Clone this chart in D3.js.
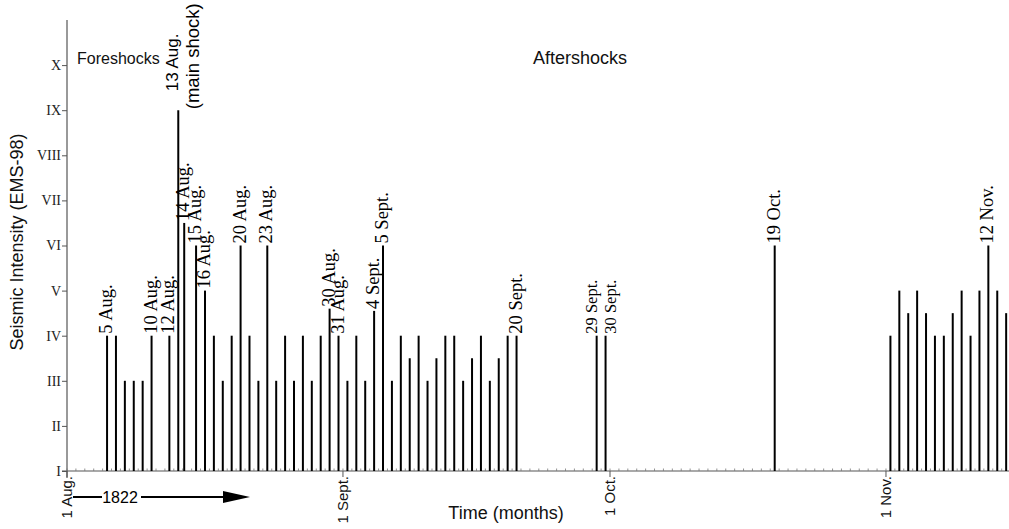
<!DOCTYPE html>
<html>
<head>
<meta charset="utf-8">
<script src="https://cdn.jsdelivr.net/npm/d3@7/dist/d3.min.js"></script>
<style>
  body { margin: 0; background: #fff; }
  svg { display: block; }
  .serif { font-family: "Liberation Serif", "Times New Roman", serif; }
  .sans { font-family: "Liberation Sans", Arial, sans-serif; }
</style>
</head>
<body>
<div id="chart"></div>
<script>
// event days (placed at midday unless a time is given)
const eventDates = [
  "1822-08-05", "1822-08-06", "1822-08-07", "1822-08-08", "1822-08-09", "1822-08-10",
  "1822-08-12", "1822-08-13", "1822-08-14 04:00", "1822-08-15", "1822-08-16", "1822-08-17",
  "1822-08-18", "1822-08-19", "1822-08-20", "1822-08-21", "1822-08-22", "1822-08-23",
  "1822-08-24", "1822-08-25", "1822-08-26", "1822-08-27", "1822-08-28", "1822-08-29",
  "1822-08-30", "1822-08-31",
  "1822-09-01", "1822-09-02", "1822-09-03", "1822-09-04", "1822-09-05", "1822-09-06",
  "1822-09-07", "1822-09-08", "1822-09-09", "1822-09-10", "1822-09-11", "1822-09-12",
  "1822-09-13", "1822-09-14", "1822-09-15", "1822-09-16", "1822-09-17", "1822-09-18",
  "1822-09-19", "1822-09-20", "1822-09-29", "1822-09-30",
  "1822-10-19",
  "1822-11-01", "1822-11-02", "1822-11-03", "1822-11-04", "1822-11-05", "1822-11-06",
  "1822-11-07", "1822-11-08", "1822-11-09", "1822-11-10", "1822-11-11", "1822-11-12",
  "1822-11-13", "1822-11-14"
];
const intensities = [
  4, 4, 3, 3, 3, 4,
  4, 9, 6.5, 6, 5, 4,
  3, 4, 6, 4, 3, 6,
  3, 4, 3, 4, 3, 4,
  4.6, 4,
  3, 4, 3, 4.55, 6, 3,
  4, 3.5, 4, 3, 3.5, 4,
  4, 3, 3.5, 4, 3, 3.5,
  4, 4, 4, 4,
  6,
  4, 5, 4.5, 5, 4.5, 4,
  4, 4.5, 5, 4, 5, 6,
  5, 4.5
];
const eventLabels = [
  "5 Aug.", "", "", "", "", "10 Aug.",
  "12 Aug.", "", "14 Aug.", "15 Aug.", "16 Aug.", "",
  "", "", "20 Aug.", "", "", "23 Aug.",
  "", "", "", "", "", "",
  "30 Aug.", "31 Aug.",
  "", "", "", "4 Sept.", "5 Sept.", "",
  "", "", "", "", "", "",
  "", "", "", "", "", "",
  "", "20 Sept.", "29 Sept.", "30 Sept.",
  "19 Oct.",
  "", "", "", "", "", "",
  "", "", "", "", "", "12 Nov.",
  "", ""
];
const mainShockLines = ["13 Aug.", "(main shock)"];
const romanLabels = ["I", "II", "III", "IV", "V", "VI", "VII", "VIII", "IX", "X"];
const monthTicks = ["1822-08-01", "1822-09-01", "1822-10-01", "1822-11-01"];
const monthLabels = ["1 Aug.", "1 Sept.", "1 Oct.", "1 Nov."];

const width = 1009, height = 529;
const parseDay = d3.utcParse("%Y-%m-%d %H:%M");
const toDate = s => parseDay(s.length > 10 ? s : s + " 12:00");

const events = eventDates.map((d, i) => ({
  date: toDate(d), value: intensities[i], label: eventLabels[i]
}));

const x = d3.scaleUtc()
  .domain([parseDay("1822-08-01 00:00"), parseDay("1822-11-15 00:00")])
  .range([67, 1010.6]);
const y = d3.scaleLinear().domain([1, 11]).range([471, 20]);

const svg = d3.select("#chart").append("svg")
  .attr("width", width).attr("height", height);

// y axis
const yAxis = svg.append("g")
  .attr("class", "serif")
  .attr("transform", "translate(67,0)")
  .call(d3.axisLeft(y)
    .tickValues(d3.range(1, 11))
    .tickFormat(d => romanLabels[d - 1])
    .tickSize(5).tickPadding(1));
yAxis.select(".domain").remove();
yAxis.selectAll(".tick line").attr("stroke", "#555");
yAxis.selectAll(".tick text").attr("font-size", 14).attr("fill", "#222");
svg.append("line")
  .attr("x1", 67).attr("x2", 67).attr("y1", 20).attr("y2", 478)
  .attr("stroke", "#555").attr("stroke-width", 1.2);

// x axis: daily minor ticks + month ticks
svg.append("line")
  .attr("x1", 62).attr("x2", width).attr("y1", y(1)).attr("y2", y(1))
  .attr("stroke", "#555").attr("stroke-width", 1.2);
svg.append("g").selectAll("line")
  .data(d3.utcDay.range(x.domain()[0], x.domain()[1]))
  .join("line")
  .attr("x1", d => x(d)).attr("x2", d => x(d))
  .attr("y1", y(1)).attr("y2", y(1) - 2.5)
  .attr("stroke", "#777").attr("stroke-width", 0.8);

const months = monthTicks.map(d => toDate(d + " 00:00"));
svg.append("g").selectAll("line")
  .data(months)
  .join("line")
  .attr("x1", d => x(d)).attr("x2", d => x(d))
  .attr("y1", y(1)).attr("y2", y(1) + 6)
  .attr("stroke", "#555").attr("stroke-width", 1);
svg.append("g").attr("class", "sans").selectAll("text")
  .data(months)
  .join("text")
  .attr("transform", d => `translate(${x(d) + 5},476) rotate(-90)`)
  .attr("text-anchor", "end")
  .attr("font-size", 15)
  .attr("fill", "#111")
  .text((d, i) => monthLabels[i]);

// bars
svg.append("g").selectAll("line")
  .data(events)
  .join("line")
  .attr("x1", d => x(d.date)).attr("x2", d => x(d.date))
  .attr("y1", y(1)).attr("y2", d => y(d.value))
  .attr("stroke", "#000").attr("stroke-width", 2);

// bar labels (the two crowded end-of-September labels are pushed apart)
const smallLabels = new Set(["29 Sept.", "30 Sept."]);
const labelShift = { "29 Sept.": -5, "30 Sept.": 5 };
svg.append("g").attr("class", "serif").selectAll("text")
  .data(events.filter(d => d.label))
  .join("text")
  .attr("transform", d => `translate(${x(d.date) + 5 + (labelShift[d.label] || 0)},${y(d.value) - 2}) rotate(-90)`)
  .attr("font-size", d => smallLabels.has(d.label) ? 16.5 : 18.5)
  .attr("fill", "#000")
  .text(d => d.label);

// main shock label
const main = events.find(d => d.value === d3.max(intensities));
const mx = x(main.date);
svg.append("text").attr("class", "sans")
  .attr("transform", `translate(${mx},${y(main.value) - 19}) rotate(-90)`)
  .attr("font-size", 17).attr("fill", "#000")
  .text(mainShockLines[0]);
svg.append("text").attr("class", "sans")
  .attr("transform", `translate(${mx + 21},${y(main.value) - 1}) rotate(-90)`)
  .attr("font-size", 18.5).attr("fill", "#000")
  .text(mainShockLines[1]);

// annotations
svg.append("text").attr("class", "sans")
  .attr("x", 77).attr("y", 64).attr("font-size", 16).attr("fill", "#111")
  .text("Foreshocks");
svg.append("text").attr("class", "sans")
  .attr("x", 533).attr("y", 64).attr("font-size", 18).attr("fill", "#111")
  .text("Aftershocks");
svg.append("text").attr("class", "sans")
  .attr("transform", "translate(23,242) rotate(-90)")
  .attr("text-anchor", "middle").attr("font-size", 18).attr("fill", "#111")
  .text("Seismic Intensity (EMS-98)");
svg.append("text").attr("class", "sans")
  .attr("x", 506).attr("y", 519).attr("text-anchor", "middle")
  .attr("font-size", 18).attr("fill", "#111")
  .text("Time (months)");

// 1822 arrow
const ay = 497;
svg.append("line").attr("x1", 73).attr("x2", 102).attr("y1", ay).attr("y2", ay)
  .attr("stroke", "#000").attr("stroke-width", 2);
svg.append("text").attr("class", "sans")
  .attr("x", 120).attr("y", ay + 6).attr("text-anchor", "middle")
  .attr("font-size", 16).attr("fill", "#000").text("1822");
svg.append("line").attr("x1", 141).attr("x2", 226).attr("y1", ay).attr("y2", ay)
  .attr("stroke", "#000").attr("stroke-width", 2);
svg.append("path")
  .attr("d", `M223,${ay - 6} L250,${ay} L223,${ay + 6} Z`)
  .attr("fill", "#000");
</script>
</body>
</html>
